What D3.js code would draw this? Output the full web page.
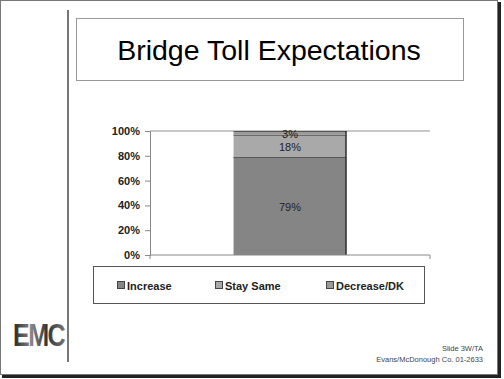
<!DOCTYPE html>
<html><head><meta charset="utf-8">
<script src="https://cdn.jsdelivr.net/npm/d3@7"></script>
<style>body{margin:0;background:#fff}svg{display:block}</style>
</head><body>
<script>
const title = "Bridge Toll Expectations";
const categories = ["All"];
const seriesNames = ["Increase", "Stay Same", "Decrease/DK"];
const seriesValues = [[79], [18], [3]];
const seriesColors = ["#858585", "#a9a9a9", "#9a9a9a"];
const tickValues = [0, 20, 40, 60, 80, 100];
const footer = ["Slide 3W/TA", "Evans/McDonough Co. 01-2633"];

const W = 504, H = 379;
const svg = d3.select("body").append("svg").attr("width", W).attr("height", H);

// slide frame with shadow
svg.append("rect").attr("x", 2).attr("y", 2).attr("width", 499).attr("height", 376).attr("fill", "#222");
svg.append("rect").attr("x", 0.5).attr("y", 0.5).attr("width", 497).attr("height", 374).attr("fill", "#fff").attr("stroke", "#777");

// vertical divider
svg.append("line").attr("x1", 68).attr("x2", 68).attr("y1", 10).attr("y2", 362).attr("stroke", "#777").attr("stroke-width", 2);

// title box
svg.append("rect").attr("x", 76.5).attr("y", 18.5).attr("width", 387).attr("height", 62).attr("fill", "#fff").attr("stroke", "#999");
svg.append("text").attr("x", 269).attr("y", 60).attr("text-anchor", "middle")
  .attr("font-family", "Liberation Sans, Arial, sans-serif").attr("font-size", 28.5).attr("fill", "#000").text(title);

// chart
const x0 = 150, x1 = 430, yTop = 131, yBot = 255;
const x = d3.scaleBand().domain(categories).range([x0, x1]).paddingInner(0).paddingOuter(0.74);
const y = d3.scaleLinear().domain([0, 100]).range([yBot, yTop]);

// top gridline
svg.append("line").attr("x1", x0).attr("x2", x1).attr("y1", y(100)).attr("y2", y(100)).attr("stroke", "#c8c8c8").attr("stroke-width", 2);

const stackData = categories.map((c, i) => {
  const o = {cat: c};
  seriesNames.forEach((s, j) => o[s] = seriesValues[j][i]);
  return o;
});
const stacked = d3.stack().keys(seriesNames)(stackData);

const g = svg.append("g");
stacked.forEach((layer, j) => {
  layer.forEach(d => {
    const bx = x(d.data.cat), bw = x.bandwidth();
    g.append("rect").attr("x", bx).attr("y", y(d[1])).attr("width", bw).attr("height", y(d[0]) - y(d[1]))
      .attr("fill", seriesColors[j]);
    g.append("line").attr("x1", bx).attr("x2", bx + bw).attr("y1", y(d[1]) + 0.5).attr("y2", y(d[1]) + 0.5)
      .attr("stroke", "#555").attr("stroke-width", 1);
    g.append("line").attr("x1", bx + bw - 0.5).attr("x2", bx + bw - 0.5).attr("y1", y(d[1])).attr("y2", y(d[0]))
      .attr("stroke", "#333").attr("stroke-width", 1.5);
    g.append("text").attr("x", bx + bw / 2).attr("y", (y(d[0]) + y(d[1])) / 2 + 5)
      .attr("text-anchor", "middle").attr("font-family", "Liberation Sans, Arial, sans-serif")
      .attr("font-size", 11).attr("fill", "#222").text(d.data[seriesNames[j]] + "%");
  });
});

// y axis
const yAxis = d3.axisLeft(y).tickValues(tickValues).tickFormat(d => d + "%").tickSize(5).tickPadding(5);
const ya = svg.append("g").attr("transform", `translate(${x0},0)`).call(yAxis);
ya.select(".domain").attr("stroke", "#888");
ya.selectAll(".tick line").attr("stroke", "#888");
ya.selectAll(".tick text").attr("font-family", "Liberation Sans, Arial, sans-serif").attr("font-size", 11)
  .attr("font-weight", "bold").attr("fill", "#222");

// x axis
const xAxis = d3.axisBottom(x).tickSize(0).tickFormat("");
const xa = svg.append("g").attr("transform", `translate(0,${yBot})`).call(xAxis);
xa.select(".domain").attr("stroke", "#888").attr("d", `M${x0},4V0H${x1}V4`);

// legend
svg.append("rect").attr("x", 93.5).attr("y", 266.5).attr("width", 331).attr("height", 37).attr("fill", "#fff").attr("stroke", "#555");
const legendX = [117, 215, 326];
seriesNames.forEach((s, j) => {
  svg.append("rect").attr("x", legendX[j] + 0.5).attr("y", 281.5).attr("width", 7).attr("height", 7)
    .attr("fill", seriesColors[j]).attr("stroke", "#444");
  svg.append("text").attr("x", legendX[j] + 10).attr("y", 289.5).attr("font-family", "Liberation Sans, Arial, sans-serif")
    .attr("font-size", 11).attr("font-weight", "bold").attr("fill", "#222").text(s);
});

// EMC logo
const defs = svg.append("defs");
const grad = defs.append("linearGradient").attr("id", "lg").attr("x1", "0").attr("x2", "1").attr("y1", "0").attr("y2", "0");
grad.append("stop").attr("offset", "0%").attr("stop-color", "#222");
grad.append("stop").attr("offset", "35%").attr("stop-color", "#888");
grad.append("stop").attr("offset", "65%").attr("stop-color", "#333");
grad.append("stop").attr("offset", "100%").attr("stop-color", "#777");
svg.append("text").attr("x", 13).attr("y", 346).attr("font-family", "Liberation Sans Narrow, Liberation Sans, Arial, sans-serif")
  .attr("font-size", 31).attr("font-weight", "bold").attr("letter-spacing", -2).attr("fill", "url(#lg)")
  .attr("textLength", 51).attr("lengthAdjust", "spacingAndGlyphs").text("EMC");

// footer
footer.forEach((t, i) => {
  svg.append("text").attr("x", 483).attr("y", 351 + i * 11).attr("text-anchor", "end")
    .attr("font-family", "Liberation Sans, Arial, sans-serif").attr("font-size", 7.5).attr("fill", "#444").text(t);
});
</script>
</body></html>
